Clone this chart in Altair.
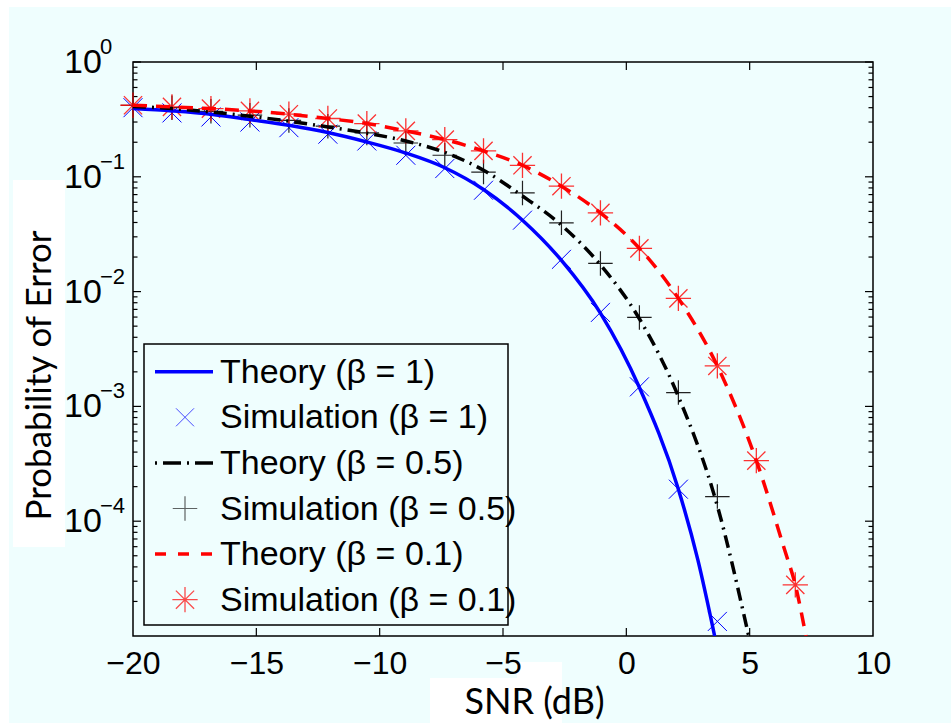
import altair as alt
import pandas as pd

# ---------------- data ----------------
snr_sim = [-20.0, -18.42, -16.84, -15.26, -13.68, -12.10, -10.52, -8.94, -7.36,
           -5.79, -4.21, -2.63, -1.05, 0.53, 2.11, 3.69, 5.27, 6.85]

sim_b1 = [0.40, 0.360, 0.332, 0.30, 0.268, 0.235, 0.205, 0.154, 0.118, 0.0764,
          0.0419, 0.0191, 0.00659, 0.00148, 1.9e-4, 1.34e-5]
sim_b05 = [0.42, 0.40, 0.372, 0.344, 0.31, 0.276, 0.241, 0.197, 0.154, 0.110,
           0.0724, 0.0397, 0.0176, 0.00596, 0.00132, 1.64e-4]
sim_b01 = [0.42, 0.406, 0.393, 0.375, 0.351, 0.322, 0.291, 0.251, 0.211, 0.168,
           0.126, 0.0828, 0.0485, 0.0238, 0.00873, 0.00225, 3.37e-4, 2.79e-5]

th_b1_snr = [-20.0, -18.42, -16.84, -15.26, -13.68, -12.10, -10.52, -8.94, -7.36,
             -5.79, -4.21, -2.63, -1.05, 0.53, 2.11, 2.90, 3.58]
th_b1 = [0.393, 0.375, 0.351, 0.315, 0.281, 0.243, 0.201, 0.161, 0.120, 0.0775,
         0.0419, 0.0187, 0.0065, 0.00146, 1.9e-4, 4.6e-5, 1e-5]

th_b05_snr = [-20.0, -18.42, -16.84, -15.26, -13.68, -12.10, -10.52, -8.94, -7.36,
              -5.79, -4.21, -2.63, -1.05, 0.53, 2.11, 3.69, 4.96]
th_b05 = [0.41, 0.393, 0.367, 0.337, 0.305, 0.272, 0.24, 0.205, 0.163, 0.114,
          0.068, 0.0379, 0.0171, 0.0058, 0.00122, 1.36e-4, 1e-5]

th_b01_snr = [-20.0, -18.42, -16.84, -15.26, -13.68, -12.10, -10.52, -8.94, -7.36,
              -5.79, -4.21, -2.63, -1.05, 0.53, 2.11, 3.69, 5.27, 6.42, 6.85, 7.28]
th_b01 = [0.42, 0.406, 0.393, 0.375, 0.351, 0.322, 0.291, 0.251, 0.211, 0.168,
          0.126, 0.0828, 0.0485, 0.0238, 0.00873, 0.00225, 3.37e-4, 5.6e-5, 2.79e-5, 1e-5]

legend_labels = ["Theory (β = 1)", "Simulation (β = 1)", "Theory (β = 0.5)",
                 "Simulation (β = 0.5)", "Theory (β = 0.1)", "Simulation (β = 0.1)"]

x_tick_values = [-20, -15, -10, -5, 0, 5, 10]
y_tick_values = [1, 0.1, 0.01, 0.001, 0.0001]
y_tick_base = ["10", "10", "10", "10", "10"]
y_tick_exp = ["0", "−1", "−2", "−3", "−4"]
y_major_ticks = [1, 0.1, 0.01, 0.001, 0.0001]
y_minor_ticks = [m * 10.0 ** (-k) for k in range(1, 6) for m in range(2, 10)]
x_inner_ticks = [-15, -10, -5, 0, 5]

# ---------------- styling ----------------
BG = "#effefe"
W, H = 740, 574
BLUE, BLACK, RED = "#0000ff", "#000000", "#ff0000"
X_PATH = "M-1,-1L1,1M-1,1L1,-1"
PLUS_PATH = "M-1,0L1,0M0,-1L0,1"
STAR_PATH = "M-1,0L1,0M0,-1L0,1M-0.72,-0.72L0.72,0.72M-0.72,0.72L0.72,-0.72"
TICK_FONT = "Liberation Sans"

xscale = alt.Scale(domain=[-20, 10], nice=False, zero=False)
yscale = alt.Scale(type="log", domain=[1e-5, 1], nice=False)

x_axis = alt.Axis(values=x_tick_values, ticks=False, domain=False, grid=False,
                  labelFont=TICK_FONT, labelFontSize=32, labelColor="black",
                  labelPadding=12, labelFlush=False, labelOverlap=False,
                  title="SNR (dB)", titleFont="Lato",
                  titleFontSize=36, titleFontWeight="normal", titleColor="black",
                  titleX=401, titleY=77, titleBaseline="alphabetic", titleAlign="center",
                  zindex=1)
y_axis = alt.Axis(values=y_tick_values, labels=False, ticks=False, domain=False,
                  grid=False, title="Probability of Error",
                  titleFont="Lato", titleFontSize=35, titleFontWeight="normal",
                  titleColor="black", titleX=-94, titleY=313, titleAngle=270,
                  titleBaseline="middle", titleAlign="center", zindex=1)

one = pd.DataFrame({"a": [0]})


def box(x0, x1, y0, y1, fill="white", stroke=None, sw=0):
    kw = dict(fill=fill)
    if stroke:
        kw.update(stroke=stroke, strokeWidth=sw)
    return alt.Chart(one).mark_rect(**kw).encode(
        x=alt.value(x0), x2=alt.value(x1), y=alt.value(y0), y2=alt.value(y1))


def XE(field):
    return alt.X(field, type="quantitative", scale=xscale, axis=x_axis)


def YE(field):
    return alt.Y(field, type="quantitative", scale=yscale, axis=y_axis)


layers = []
# white patches of the original figure
layers.append(box(-133, 818, -62, -55))
layers.append(box(-133, -124, -62, 661))
layers.append(box(-120, -68, 118, 485))
layers.append(box(297, 429, 616, 661))
layers.append(box(384, 429, 600, 616))

# y tick labels: "10" with a raised exponent
ylab = pd.DataFrame({"v": y_tick_values, "base": y_tick_base, "exp": y_tick_exp})
layers.append(alt.Chart(ylab).mark_text(align="left", baseline="middle", font=TICK_FONT,
                                        fontSize=34, color="black", dy=1).encode(
    y=YE("v"), x=alt.value(-69), text="base:N"))
layers.append(alt.Chart(ylab).mark_text(align="left", baseline="middle", font=TICK_FONT,
                                        fontSize=22, color="black", dy=-15).encode(
    y=YE("v"), x=alt.value(-33), text="exp:N"))


# inward ticks (left/right/top/bottom)
def yticks(vals, x0, x1):
    return alt.Chart(pd.DataFrame({"v": vals})).mark_rule(color="black", strokeWidth=1.2).encode(
        y=YE("v"), x=alt.value(x0), x2=alt.value(x1))


def xticks(vals, y0, y1):
    return alt.Chart(pd.DataFrame({"v": vals})).mark_rule(color="black", strokeWidth=1.2).encode(
        x=XE("v"), y=alt.value(y0), y2=alt.value(y1))


layers += [yticks(y_major_ticks, 0, 8), yticks(y_minor_ticks, 0, 4.5),
           yticks(y_major_ticks, W - 8, W), yticks(y_minor_ticks, W - 4.5, W),
           xticks(x_inner_ticks, H - 8, H), xticks(x_inner_ticks, 0, 8)]


# simulation markers
def sim_layer(vals, shape, size, color, sw, op):
    df = pd.DataFrame({"snr": snr_sim[:len(vals)], "pe": vals})
    return alt.Chart(df).mark_point(shape=shape, size=size, color=color, filled=False,
                                    strokeWidth=sw, opacity=op).encode(
        x=XE("snr"), y=YE("pe"))


layers.append(sim_layer(sim_b1, X_PATH, 361, BLUE, 1.0, 1.0))
layers.append(sim_layer(sim_b05, PLUS_PATH, 600, "#222222", 1.2, 1.0))
layers.append(sim_layer(sim_b01, STAR_PATH, 640, RED, 1.3, 0.8))


# theory curves
def th_layer(xs, ys, color, dash=None):
    df = pd.DataFrame({"snr": xs, "pe": ys})
    kw = dict(color=color, strokeWidth=3.5, interpolate="monotone", clip=True)
    if dash:
        kw["strokeDash"] = dash
    return alt.Chart(df).mark_line(**kw).encode(x=XE("snr"), y=YE("pe"))


layers.append(th_layer(th_b1_snr, th_b1, BLUE))
layers.append(th_layer(th_b05_snr, th_b05, BLACK, [13, 6, 2, 6]))
layers.append(th_layer(th_b01_snr, th_b01, RED, [14, 9]))

# legend
layers.append(box(11, 375, 282, 563, fill=BG, stroke="black", sw=1.5))
row0, step = 309.7, 45.6
styles = [("line", BLUE, None), ("point", BLUE, (X_PATH, 324, 1.0)),
          ("line", BLACK, [2, 6, 18, 6]), ("point", "#222222", (PLUS_PATH, 600, 1.2)),
          ("line", RED, [11, 12]), ("point", RED, (STAR_PATH, 640, 1.3))]
for i, (lab, (kind, col, spec)) in enumerate(zip(legend_labels, styles)):
    yy = row0 + i * step
    if kind == "line":
        kw = dict(color=col, strokeWidth=3.5)
        if spec:
            kw["strokeDash"] = spec
        layers.append(alt.Chart(one).mark_rule(**kw).encode(
            x=alt.value(22), x2=alt.value(80), y=alt.value(yy)))
    else:
        shape, size, sw = spec
        layers.append(alt.Chart(one).mark_point(shape=shape, size=size, color=col,
                                                filled=False, strokeWidth=sw).encode(
            x=alt.value(52), y=alt.value(yy)))
    layers.append(alt.Chart(one).mark_text(text=lab, align="left", baseline="middle",
                                           font="Liberation Sans", fontSize=34,
                                           color="black").encode(
        x=alt.value(87), y=alt.value(yy + 1)))

chart = alt.layer(*layers).properties(
    width=W, height=H,
    padding={"left": 133, "top": 62, "right": 78, "bottom": 87},
    autosize=alt.AutoSizeParams(type="none"),
    background=BG,
).configure_view(stroke="black", strokeWidth=1.5)

chart.save("out.html", embed_options={"renderer": "svg", "actions": False})
